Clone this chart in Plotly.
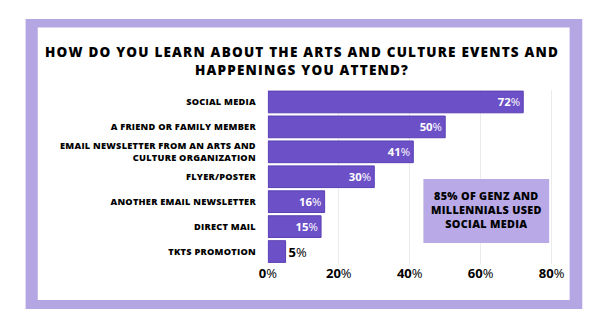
import plotly.graph_objects as go

# Survey answers (top to bottom) and share of respondents, in percent
categories = [
    "SOCIAL MEDIA",
    "A FRIEND OR FAMILY MEMBER",
    "EMAIL NEWSLETTER FROM AN ARTS AND<br>CULTURE ORGANIZATION",
    "FLYER/POSTER",
    "ANOTHER EMAIL NEWSLETTER",
    "DIRECT MAIL",
    "TKTS PROMOTION",
]
values = [72, 50, 41, 30, 16, 15, 5]
label_inside = [True, True, True, True, True, True, False]

tick_values = [0, 20, 40, 60, 80]
tick_labels = ["0", "20", "40", "60", "80"]

title_lines = ["HOW DO YOU LEARN ABOUT THE ARTS AND CULTURE EVENTS AND",
               "HAPPENINGS YOU ATTEND?"]
callout_lines = ["85% OF GENZ AND", "MILLENNIALS USED", "SOCIAL MEDIA"]

BAR = "#6c50c7"
BAR_EDGE = "#5a3fb3"
FRAME = "#b4a6e3"
CALLOUT = "#b9aae7"
FONT = "Open Sans"

W, H = 600, 326


def px_x(x):
    return x / W


def px_y(y):
    return 1 - y / H


def spaced(text, px):
    return "<br>".join(f"<span style='letter-spacing:{px}px'>{line}</span>"
                       for line in text.split("<br>"))


bar_text = [f"<b>{v}</b><span style='font-weight:400'>%</span>" for v in values]

fig = go.Figure(
    go.Bar(
        x=values,
        y=categories,
        orientation="h",
        marker=dict(color=BAR, line=dict(color=BAR_EDGE, width=1)),
        text=bar_text,
        texttemplate="%{text}",
        textposition=["inside" if i else "outside" for i in label_inside],
        insidetextanchor="end",
        insidetextfont=dict(family=FONT, size=13, color="white"),
        outsidetextfont=dict(family=FONT, size=13, color="black"),
        textangle=0,
        cliponaxis=False,
        hoverinfo="skip",
    )
)

# Frame: lavender border around a white card
shapes = [
    dict(type="rect", xref="paper", yref="paper",
         x0=px_x(17), x1=px_x(588), y0=px_y(309), y1=px_y(19),
         fillcolor=FRAME, line=dict(width=0), layer="below"),
    dict(type="rect", xref="paper", yref="paper",
         x0=px_x(29.5), x1=px_x(575), y0=px_y(300), y1=px_y(27.5),
         fillcolor="white", line=dict(width=0), layer="below"),
    # call-out box
    dict(type="rect", xref="paper", yref="paper",
         x0=px_x(425), x1=px_x(554), y0=px_y(243), y1=px_y(179),
         fillcolor=CALLOUT, line=dict(width=0), layer="above"),
]

annotations = [
    dict(text=spaced("<br>".join(title_lines), 1.2),
         xref="paper", yref="paper",
         x=0.5, y=px_y(61), xanchor="center", yanchor="middle",
         showarrow=False, align="center",
         font=dict(family=FONT, size=13.5, color="black", weight=800)),
    dict(text=spaced("<br>".join(callout_lines), 0.3),
         xref="paper", yref="paper",
         x=px_x(489.5), y=px_y(210), xanchor="center", yanchor="middle",
         showarrow=False, align="center",
         font=dict(family=FONT, size=10.8, color="black", weight=800)),
]

fig.update_layout(
    width=W, height=H,
    margin=dict(l=0, r=0, t=0, b=0),
    paper_bgcolor="white",
    plot_bgcolor="rgba(0,0,0,0)",
    showlegend=False,
    bargap=0.13,
    shapes=shapes,
    annotations=annotations,
    xaxis=dict(
        domain=[px_x(265.5), px_x(563.8)],
        range=[0, 82],
        tickvals=tick_values,
        ticktext=[f"<b>{t}</b><span style='font-weight:400'>%</span>" for t in tick_labels],
        tickfont=dict(family=FONT, size=13, color="black"),
        showgrid=True, gridcolor="#ebebeb", gridwidth=1,
        zeroline=False, showline=False,
        ticks="", ticklabelstandoff=0,
        fixedrange=True,
    ),
    yaxis=dict(
        domain=[px_y(264), px_y(89.5)],
        autorange="reversed",
        tickvals=categories,
        ticktext=[spaced(c, 0.25) for c in categories],
        tickfont=dict(family=FONT, size=9.2, color="black", weight=800),
        showgrid=False, zeroline=False, showline=False,
        ticks="", ticklabelstandoff=11,
        fixedrange=True,
    ),
)

fig.write_html("out.html")
